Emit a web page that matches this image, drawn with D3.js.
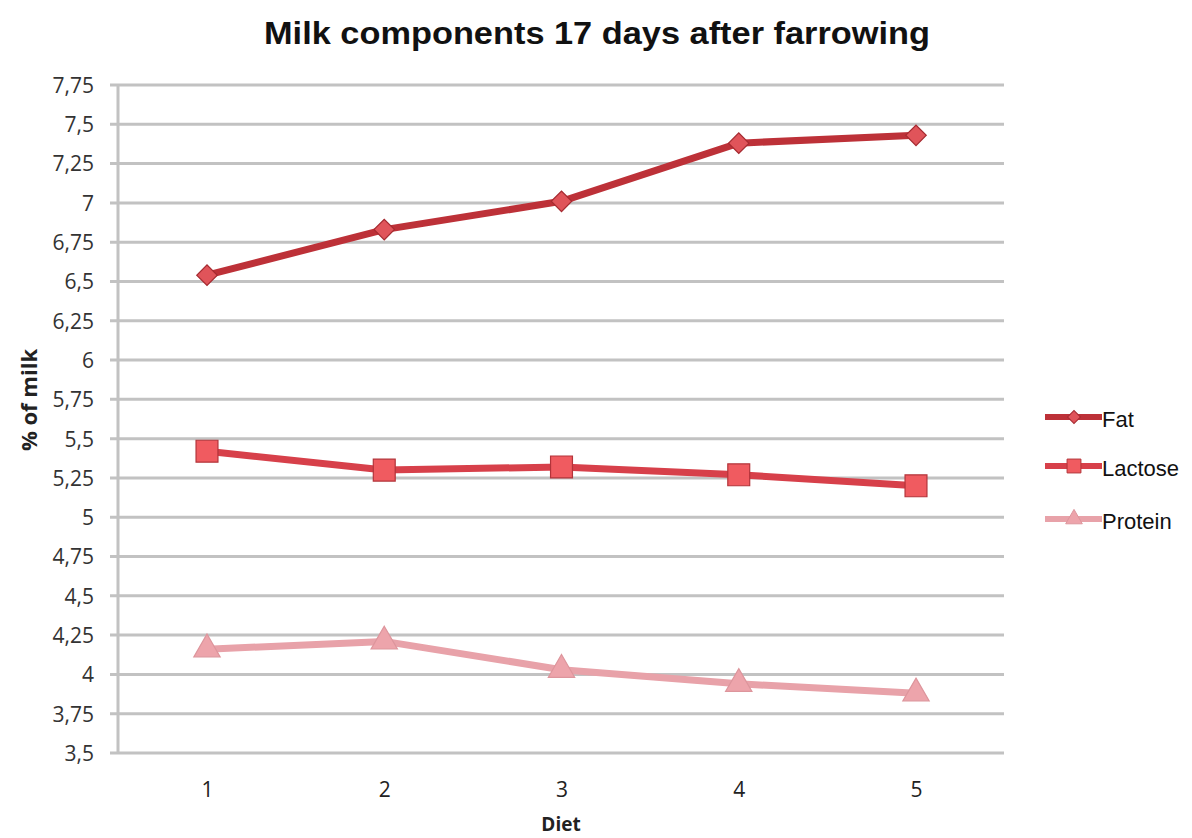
<!DOCTYPE html>
<html><head><meta charset="utf-8">
<script src="https://cdn.jsdelivr.net/npm/d3@7"></script>
<style>body{margin:0;background:#fff;} svg{display:block;}</style>
</head><body>
<script>
const diets = ["1","2","3","4","5"];
const fat = [6.54, 6.83, 7.01, 7.38, 7.43];
const lactose = [5.42, 5.30, 5.32, 5.27, 5.20];
const protein = [4.16, 4.21, 4.03, 3.94, 3.88];
const seriesNames = ["Fat","Lactose","Protein"];
const yTicks = [3.5,3.75,4,4.25,4.5,4.75,5,5.25,5.5,5.75,6,6.25,6.5,6.75,7,7.25,7.5,7.75];

const W=1192,H=838;
const svg=d3.select("body").append("svg").attr("width",W).attr("height",H);
const x=d3.scalePoint().domain(diets).range([207,916]);
const y=d3.scaleLinear().domain([3.5,7.75]).range([753,85]);
const left=118, right=1004;
const tickFont="Open Sans, DejaVu Sans, sans-serif";

// gridlines
svg.append("g").selectAll("line").data(yTicks).join("line")
  .attr("x1",left-8).attr("x2",right).attr("y1",d=>y(d)).attr("y2",d=>y(d))
  .attr("stroke","#c2c2c2").attr("stroke-width",3);
// y axis line
svg.append("line").attr("x1",left).attr("x2",left).attr("y1",y(7.75)-1).attr("y2",y(3.5)+1)
  .attr("stroke","#c2c2c2").attr("stroke-width",3);

// y tick labels
const yAxis=d3.axisLeft(y).tickValues(yTicks).tickSize(0).tickPadding(0)
  .tickFormat(d=>String(d).replace(".",","));
const gy=svg.append("g").attr("transform",`translate(94,0)`).call(yAxis);
gy.select(".domain").remove();
gy.attr("font-size",null).attr("font-family",null);
gy.selectAll("text").attr("font-family",tickFont).attr("font-size",21).attr("fill","#333").attr("dy","0.35em");

// x tick labels
const xAxis=d3.axisBottom(x).tickSize(0).tickPadding(0);
const gx=svg.append("g").attr("transform",`translate(0,790)`).call(xAxis);
gx.select(".domain").remove();
gx.attr("font-size",null).attr("font-family",null);
gx.selectAll("text").attr("font-family",tickFont).attr("font-size",21).attr("fill","#222").attr("y",0).attr("dy","0.35em");

// title
svg.append("text").attr("x",597).attr("y",44).attr("text-anchor","middle")
  .attr("font-family","Liberation Sans, Arial, sans-serif").attr("font-weight","bold")
  .attr("font-size",31).attr("textLength",666).attr("lengthAdjust","spacingAndGlyphs")
  .attr("fill","#111").text("Milk components 17 days after farrowing");
// axis titles
svg.append("text").attr("x",561).attr("y",831).attr("text-anchor","middle")
  .attr("font-family",tickFont).attr("font-weight","bold")
  .attr("font-size",19).attr("fill","#222").text("Diet");
svg.append("text").attr("transform","translate(37,400) rotate(-90)").attr("text-anchor","middle")
  .attr("font-family",tickFont).attr("font-weight","bold")
  .attr("font-size",22).attr("fill","#222").text("% of milk");

const series=[
  {name:"Fat",vals:fat,line:"#bd3138",fill:"#e0545a",stroke:"#a52a30",sym:d3.symbolSquare,rot:45,size:210},
  {name:"Lactose",vals:lactose,line:"#d7404a",fill:"#f05b60",stroke:"#b3343a",sym:d3.symbolSquare,rot:0,size:480},
  {name:"Protein",vals:protein,line:"#e8a2a9",fill:"#eda4ab",stroke:"#dd959c",sym:d3.symbolTriangle,rot:0,size:300}
];
const line=d3.line().x((d,i)=>x(diets[i])).y(d=>y(d));
series.forEach(s=>{
  svg.append("path").attr("d",line(s.vals)).attr("fill","none").attr("stroke",s.line).attr("stroke-width",7).attr("stroke-linejoin","round");
  svg.append("g").selectAll("path").data(s.vals).join("path")
    .attr("transform",(d,i)=>`translate(${x(diets[i])},${y(d)}) rotate(${s.rot})`)
    .attr("d",d3.symbol().type(s.sym).size(s.size))
    .attr("fill",s.fill).attr("stroke",s.stroke).attr("stroke-width",1.2);
});

// legend
const ly=[417,466,519];
series.forEach((s,i)=>{
  const g=svg.append("g").attr("transform",`translate(0,${ly[i]})`);
  g.append("line").attr("x1",1045).attr("x2",1102).attr("y1",0).attr("y2",0).attr("stroke",s.line).attr("stroke-width",6);
  g.append("path").attr("transform",`translate(1074,0) rotate(${s.rot})`).attr("d",d3.symbol().type(s.sym).size(s.size*0.4))
    .attr("fill",s.fill).attr("stroke",s.stroke).attr("stroke-width",1);
  g.append("text").attr("x",1102).attr("y",2).attr("dy","0.36em")
    .attr("font-family","Liberation Sans, Arial, sans-serif").attr("font-size",22).attr("fill","#111").text(s.name);
});
</script>
</body></html>
